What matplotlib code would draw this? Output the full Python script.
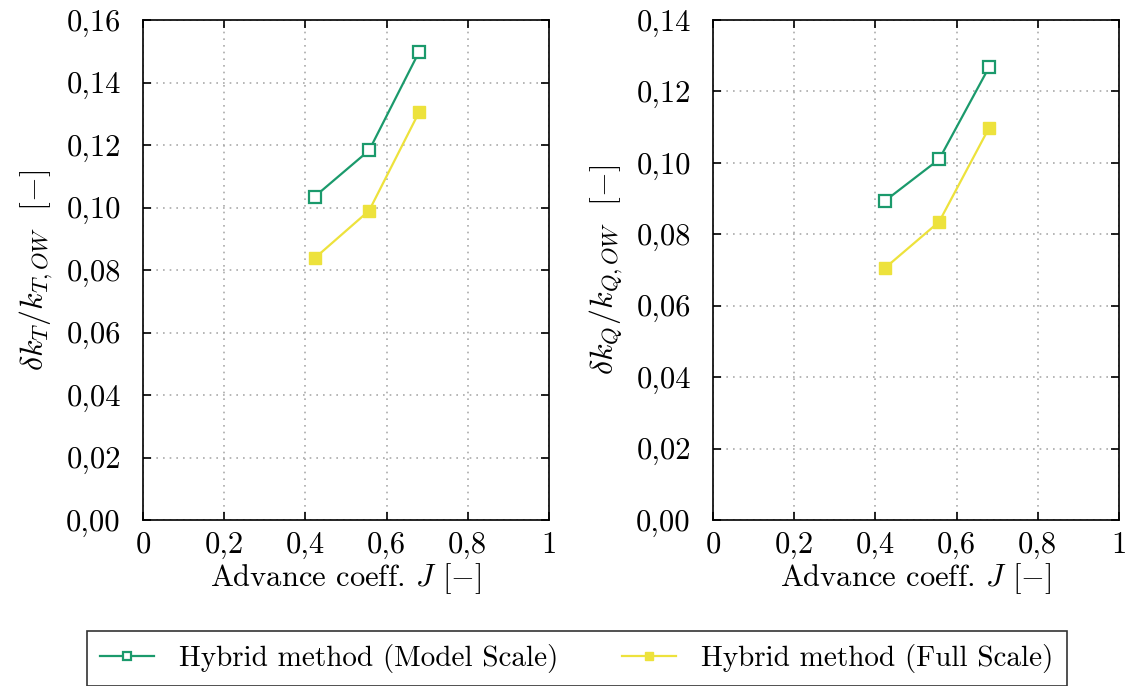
import matplotlib
matplotlib.use("Agg")
import matplotlib.pyplot as plt
from matplotlib.ticker import FuncFormatter

plt.rcParams['font.family'] = 'cmr10'
plt.rcParams['mathtext.fontset'] = 'cm'
plt.rcParams['axes.unicode_minus'] = False
plt.rcParams['axes.formatter.use_mathtext'] = True

J = [0.423, 0.557, 0.680]
kt_model = [0.1035, 0.1183, 0.1498]
kt_full = [0.0838, 0.0990, 0.1305]
kq_model = [0.0893, 0.1010, 0.1268]
kq_full = [0.0705, 0.0835, 0.1098]

green = "#1b9a6c"
yellow = "#ede23c"


def comma2(v, pos):
    return ("%.2f" % v).replace(".", ",")


def comma1(v, pos):
    if abs(v) < 1e-9:
        return "0"
    if abs(v - 1) < 1e-9:
        return "1"
    return ("%.1f" % v).replace(".", ",")


fig = plt.figure(figsize=(11.31, 6.86), dpi=100)
ax1 = fig.add_axes([143 / 1131, 1 - 520 / 686, 406 / 1131, 500 / 686])
ax2 = fig.add_axes([713 / 1131, 1 - 520 / 686, 406 / 1131, 500 / 686])

panels = [
    (ax1, kt_model, kt_full, 0.16, r"$\delta k_T/k_{T,OW}\ \ [-]$"),
    (ax2, kq_model, kq_full, 0.14, r"$\delta k_Q/k_{Q,OW}\ \ [-]$"),
]

for ax, m, f, ymax, ylab in panels:
    l1, = ax.plot(J, m, color=green, lw=1.6, marker='s', markersize=8,
                  mfc='white', mec=green, mew=1.6,
                  label="Hybrid method (Model Scale)")
    l2, = ax.plot(J, f, color=yellow, lw=1.6, marker='s', markersize=8,
                  mfc=yellow, mec=yellow,
                  label="Hybrid method (Full Scale)")
    ax.set_xlim(0, 1)
    ax.set_ylim(0, ymax)
    ax.set_xticks([0, 0.2, 0.4, 0.6, 0.8, 1.0])
    ax.set_yticks([i * 0.02 for i in range(int(round(ymax / 0.02)) + 1)])
    ax.xaxis.set_major_formatter(FuncFormatter(comma1))
    ax.yaxis.set_major_formatter(FuncFormatter(comma2))
    ax.tick_params(direction='in', top=True, right=True, length=6, width=1.2,
                   labelsize=22)
    ax.tick_params(axis='y', pad=16)
    ax.tick_params(axis='x', pad=8)
    ax.grid(color="#aaaaaa", linestyle=(0, (1, 3)), linewidth=1.2)
    for s in ax.spines.values():
        s.set_linewidth(1.2)
    ax.set_xlabel(r"Advance coeff. $J$ $[-]$", fontsize=22, labelpad=2)
    ax.set_ylabel(ylab, fontsize=23, labelpad=8)

leg = fig.legend(handles=[l1, l2], loc='upper center', ncol=2,
                 bbox_to_anchor=(0.51, 1 - 631 / 686), fontsize=21,
                 frameon=True, fancybox=False, edgecolor='black',
                 handlelength=1.85, handletextpad=0.85, columnspacing=2.2,
                 borderpad=0.45, borderaxespad=0, markerscale=0.65)
leg.get_frame().set_linewidth(1.2)

fig.savefig("out.png", dpi=100)
